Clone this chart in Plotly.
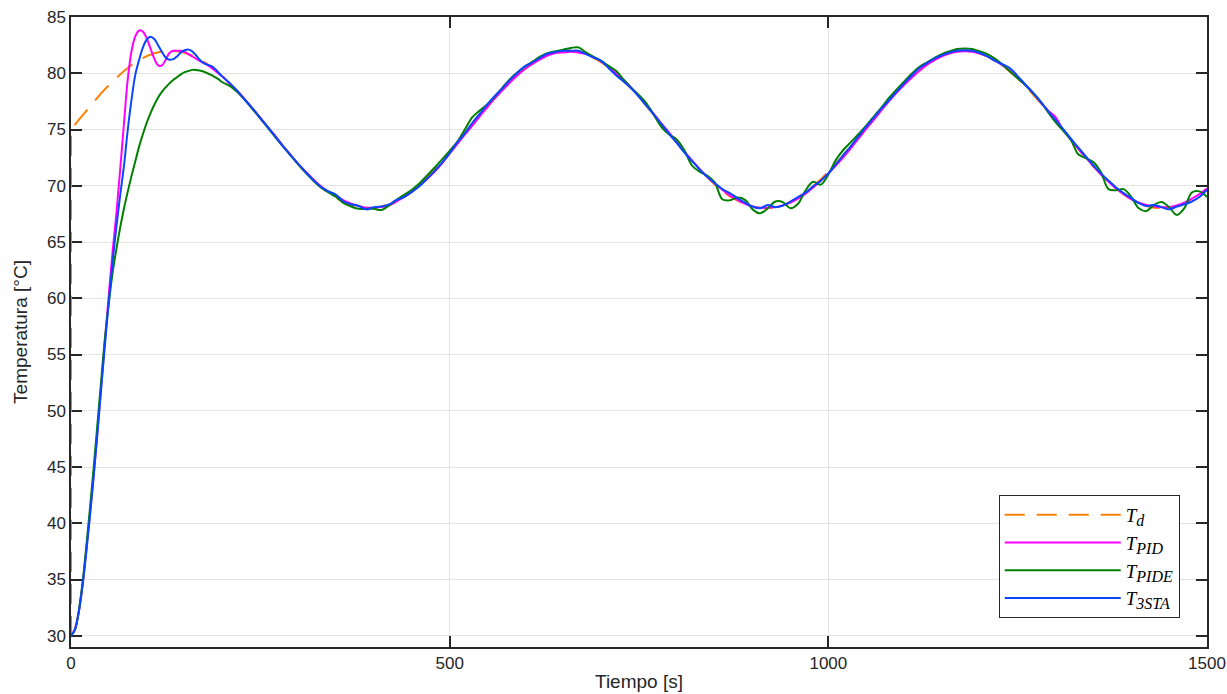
import plotly.graph_objects as go

# Time grid for the controller responses: 5 s steps during start-up, 10 s afterwards
t_ctrl = list(range(0, 200, 5)) + list(range(200, 1501, 10))

# Reference temperature T_d (jumps from 30 to 75 at t = 0)
t_ref = [0] + list(range(0, 1501, 10))
temp_ref = [
    30.0, 75.0, 75.84, 76.66, 77.47, 78.23, 78.95, 79.62, 80.21, 80.73, 81.17, 81.52,
    81.78, 81.94, 82.00, 81.96, 81.82, 81.58, 81.24, 80.82, 80.31, 79.73,
    79.08, 78.37, 77.61, 76.81, 75.99, 75.15, 74.31, 73.48, 72.68, 71.90,
    71.17, 70.50, 69.89, 69.35, 68.90, 68.53, 68.26, 68.08, 68.00, 68.03,
    68.15, 68.37, 68.69, 69.10, 69.59, 70.17, 70.81, 71.50, 72.25, 73.04,
    73.86, 74.70, 75.54, 76.37, 77.18, 77.96, 78.70, 79.39, 80.01, 80.56,
    81.03, 81.41, 81.70, 81.89, 81.99, 81.99, 81.88, 81.67, 81.37, 80.98,
    80.51, 79.94, 79.32, 78.62, 77.88, 77.10, 76.29, 75.45, 74.61, 73.78,
    72.96, 72.18, 71.43, 70.74, 70.10, 69.55, 69.06, 68.67, 68.36, 68.13,
    68.02, 68.00, 68.09, 68.28, 68.57, 68.95, 69.41, 69.95, 70.57, 71.24,
    71.97, 72.75, 73.56, 74.40, 75.24, 76.07, 76.89, 77.69, 78.44, 79.14,
    79.79, 80.37, 80.87, 81.28, 81.61, 81.84, 81.97, 82.00, 81.93, 81.76,
    81.50, 81.13, 80.68, 80.15, 79.55, 78.88, 78.17, 77.39, 76.58, 75.75,
    74.92, 74.08, 73.25, 72.46, 71.70, 70.98, 70.32, 69.74, 69.22, 68.79,
    68.46, 68.20, 68.05, 68.00, 68.05, 68.20, 68.45, 68.80, 69.23, 69.74,
]

# PID response
temp_pid = [
    # 0 .. 195 s (5 s steps)
    30.0, 30.6, 32.0, 34.4, 37.5, 40.8, 44.3, 48.2, 52.3, 56.4,
    60.4, 64.2, 67.6, 71.5, 75.6, 79.5, 82.0, 83.3, 83.8, 83.7,
    83.1, 82.2, 81.3, 80.7, 80.7, 81.2, 81.8, 82.0, 82.0, 82.0,
    81.9, 81.7, 81.5, 81.3, 81.1, 80.95, 80.75, 80.5, 80.25, 79.95,
    # 200 .. 1500 s (10 s steps)
    79.7, 79.05, 78.4, 77.65, 76.85, 76.05, 75.2, 74.4, 73.55, 72.75,
    71.95, 71.25, 70.55, 69.95, 69.45, 69.1, 68.7, 68.4, 68.2, 68.05,
    68.05, 68.1, 68.25, 68.6, 69.0, 69.45, 70.0, 70.6, 71.25, 72.0,
    72.85, 73.7, 74.55, 75.35, 76.2, 77.0, 77.8, 78.5, 79.2, 79.85,
    80.4, 80.85, 81.25, 81.6, 81.8, 81.85, 81.9, 81.85, 81.7, 81.45,
    81.05, 80.55, 80.0, 79.4, 78.7, 77.95, 77.15, 76.35, 75.5, 74.7,
    73.85, 73.05, 72.25, 71.5, 70.8, 70.2, 69.65, 69.15, 68.75, 68.4,
    68.15, 68.05, 68.05, 68.1, 68.25, 68.5, 68.85, 69.3, 69.85, 70.45,
    71.1, 71.8, 72.55, 73.35, 74.2, 75.05, 75.85, 76.7, 77.5, 78.25,
    78.95, 79.6, 80.2, 80.75, 81.15, 81.5, 81.75, 81.9, 81.95, 81.9,
    81.75, 81.5, 81.15, 80.7, 80.2, 79.6, 78.95, 78.25, 77.45, 76.7,
    76.1, 74.95, 74.1, 73.3, 72.5, 71.75, 71.0, 70.35, 69.75, 69.25,
    68.8, 68.5, 68.3, 68.15, 68.1, 68.1, 68.25, 68.5, 68.85, 69.25,
    69.75,
]

# PIDE response
temp_pide = [
    # 0 .. 195 s (5 s steps)
    30.0, 30.5, 32.1, 34.6, 37.8, 41.3, 45.0, 48.9, 52.8, 56.6,
    59.6, 62.3, 64.4, 66.3, 68.0, 69.5, 70.9, 72.2, 73.5, 74.6,
    75.6, 76.45, 77.2, 77.85, 78.35, 78.75, 79.1, 79.4, 79.65, 79.9,
    80.1, 80.2, 80.3, 80.3, 80.25, 80.15, 80.0, 79.85, 79.65, 79.45,
    # 200 .. 1500 s (10 s steps)
    79.2, 78.85, 78.3, 77.6, 76.8, 76.0, 75.15, 74.3, 73.5, 72.7,
    71.9, 71.15, 70.45, 69.85, 69.4, 69.0, 68.45, 68.15, 67.95, 67.95,
    67.95, 67.85, 68.25, 68.75, 69.2, 69.65, 70.2, 70.9, 71.6, 72.35,
    73.1, 73.9, 75.0, 76.1, 76.7, 77.25, 77.95, 78.75, 79.5, 80.1,
    80.6, 81.05, 81.5, 81.8, 81.95, 82.1, 82.25, 82.3, 81.85, 81.45,
    81.1, 80.65, 80.2, 79.4, 78.7, 78.05, 77.3, 76.25, 75.2, 74.55,
    74.1, 73.15, 71.8, 71.25, 70.9, 70.3, 68.8, 68.7, 68.95, 68.75,
    67.9, 67.55, 68.0, 68.6, 68.55, 68.0, 68.4, 69.6, 70.35, 70.1,
    71.0, 72.3, 73.2, 73.9, 74.6, 75.35, 76.15, 76.95, 77.8, 78.55,
    79.25, 79.95, 80.55, 80.95, 81.35, 81.7, 81.95, 82.15, 82.2, 82.15,
    81.95, 81.7, 81.3, 80.75, 80.15, 79.55, 78.95, 78.25, 77.5, 76.55,
    75.65, 74.9, 74.1, 72.8, 72.45, 72.1, 71.2, 69.7, 69.6, 69.7,
    69.0, 68.0, 67.75, 68.3, 68.55, 68.1, 67.4, 68.0, 69.4, 69.5,
    69.0,
]

# 3-STA response
temp_3sta = [
    # 0 .. 195 s (5 s steps)
    30.0, 30.5, 32.0, 34.3, 37.3, 40.6, 44.2, 48.1, 52.1, 56.0,
    59.8, 63.3, 66.4, 69.2, 71.8, 75.0, 77.7, 79.9, 81.2, 82.3,
    83.0, 83.25, 83.05, 82.5, 81.9, 81.4, 81.2, 81.25, 81.5, 81.85,
    82.05, 82.1, 81.95, 81.6, 81.2, 80.9, 80.75, 80.65, 80.4, 80.05,
    # 200 .. 1500 s (10 s steps)
    79.7, 79.1, 78.4, 77.6, 76.85, 76.0, 75.2, 74.35, 73.5, 72.7,
    71.95, 71.2, 70.5, 69.9, 69.5, 69.2, 68.6, 68.35, 68.2, 67.9,
    68.1, 68.15, 68.35, 68.75, 69.0, 69.45, 69.95, 70.6, 71.3, 72.05,
    72.9, 73.85, 74.65, 75.6, 76.4, 77.25, 78.0, 78.7, 79.45, 80.1,
    80.65, 81.0, 81.4, 81.75, 81.9, 82.0, 82.0, 82.0, 81.7, 81.4,
    81.1, 80.45, 79.8, 79.25, 78.65, 77.9, 77.1, 76.3, 75.45, 74.6,
    73.8, 72.95, 72.2, 71.45, 70.8, 70.25, 69.7, 69.35, 68.9, 68.5,
    68.15, 68.0, 68.3, 68.1, 68.25, 68.6, 69.0, 69.4, 69.95, 70.45,
    71.1, 71.9, 72.75, 73.55, 74.4, 75.25, 76.05, 76.85, 77.6, 78.35,
    79.1, 79.8, 80.45, 80.9, 81.3, 81.6, 81.85, 82.0, 82.05, 82.0,
    81.8, 81.5, 81.1, 80.8, 80.45, 79.75, 79.0, 78.3, 77.5, 76.65,
    75.85, 75.05, 74.2, 73.4, 72.6, 71.8, 71.1, 70.45, 69.85, 69.35,
    68.9, 68.45, 68.2, 68.3, 68.1, 67.9, 68.15, 68.35, 68.6, 69.0,
    69.65,
]

for series in (temp_pid, temp_pide, temp_3sta):
    assert len(series) == len(t_ctrl)

x_ticks = [0, 500, 1000, 1500]
y_ticks = list(range(30, 86, 5))


def sub_label(sub):
    return ("<i>T</i><sub><span style='font-size:16px'><i>" + sub +
            "</i></span></sub>")


legend_names = [sub_label("d"), sub_label("PID"), sub_label("PIDE"), sub_label("3STA")]

SANS = "Liberation Sans, Arial, sans-serif"
INK = "#262626"

fig = go.Figure()
fig.add_trace(go.Scatter(x=t_ref, y=temp_ref, mode="lines", name=legend_names[0],
                         line=dict(color="#FF8000", width=2, dash="20px,12px")))
fig.add_trace(go.Scatter(x=t_ctrl, y=temp_pid, mode="lines", name=legend_names[1],
                         line=dict(color="#FF00FF", width=2, shape="spline")))
fig.add_trace(go.Scatter(x=t_ctrl, y=temp_pide, mode="lines", name=legend_names[2],
                         line=dict(color="#008000", width=2, shape="spline")))
fig.add_trace(go.Scatter(x=t_ctrl, y=temp_3sta, mode="lines", name=legend_names[3],
                         line=dict(color="#0A46FF", width=2, shape="spline")))

axis_common = dict(
    showgrid=True, gridcolor="#E3E3E3", gridwidth=1,
    showline=True, linecolor=INK, linewidth=1.5, mirror="ticks",
    ticks="inside", ticklen=11, tickwidth=1.5, tickcolor=INK,
    tickfont=dict(family=SANS, size=17, color=INK),
    zeroline=False, layer="below traces", automargin=False,
)

fig.update_layout(
    width=1227, height=694,
    margin=dict(l=71, r=20, t=17, b=47),
    paper_bgcolor="white", plot_bgcolor="white",
    xaxis=dict(range=[0, 1500], tickvals=x_ticks,
               title=dict(text="Tiempo [s]", standoff=3,
                          font=dict(family=SANS, size=19, color=INK)),
               **axis_common),
    yaxis=dict(range=[29, 85], tickvals=y_ticks,
               title=dict(text="Temperatura [°C]", standoff=14,
                          font=dict(family=SANS, size=19, color=INK)),
               **axis_common),
    legend=dict(
        x=0.976, y=0.046, xanchor="right", yanchor="bottom",
        bgcolor="white", bordercolor=INK, borderwidth=1,
        font=dict(family="Liberation Serif, Times New Roman, serif", size=19, color="#000000"),
        itemwidth=116, tracegroupgap=0,
    ),
    showlegend=True,
)

fig.write_html("out.html")
